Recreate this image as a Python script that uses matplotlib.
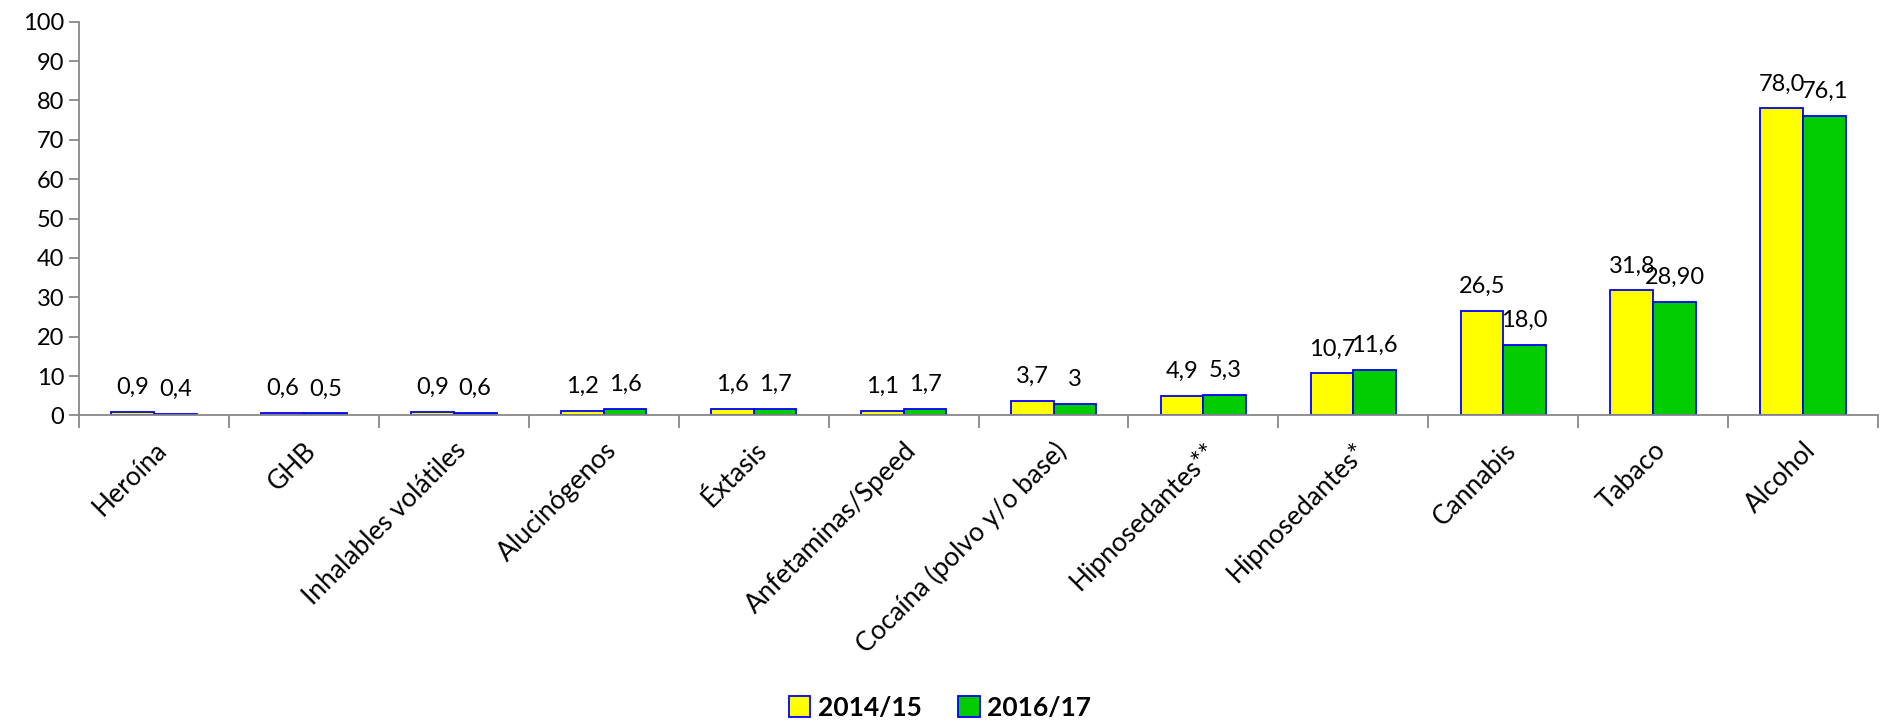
import numpy as np
import matplotlib.pyplot as plt

plt.rcParams['font.family'] = ['Lato', 'DejaVu Sans']

# categories and values
categorias = ['Heroína', 'GHB', 'Inhalables volátiles', 'Alucinógenos', 'Éxtasis',
              'Anfetaminas/Speed', 'Cocaína (polvo y/o base)', 'Hipnosedantes**',
              'Hipnosedantes*', 'Cannabis', 'Tabaco', 'Alcohol']
v_2014 = [0.9, 0.6, 0.9, 1.2, 1.6, 1.1, 3.7, 4.9, 10.7, 26.5, 31.8, 78.0]
v_2016 = [0.4, 0.5, 0.6, 1.6, 1.7, 1.7, 3.0, 5.3, 11.6, 18.0, 28.9, 76.1]
lab_2014 = ['0,9', '0,6', '0,9', '1,2', '1,6', '1,1', '3,7', '4,9', '10,7', '26,5', '31,8', '78,0']
lab_2016 = ['0,4', '0,5', '0,6', '1,6', '1,7', '1,7', '3', '5,3', '11,6', '18,0', '28,90', '76,1']

fig = plt.figure(figsize=(18.8, 7.25), dpi=100)
ax = fig.add_axes([0.042, 0.427, 0.957, 0.543])

x = np.arange(len(categorias))
w = 0.285
b1 = ax.bar(x - w / 2, v_2014, w, color='#FFFF00', edgecolor='#0000FF', linewidth=1.3, label='2014/15')
b2 = ax.bar(x + w / 2, v_2016, w, color='#00CC00', edgecolor='#0000FF', linewidth=1.3, label='2016/17')
ax.bar_label(b1, labels=lab_2014, padding=10, fontsize=17)
ax.bar_label(b2, labels=lab_2016, padding=10, fontsize=17)

ax.set_xlim(-0.5, len(categorias) - 0.5)
ax.set_ylim(0, 100)
ax.set_yticks(range(0, 101, 10))
ax.tick_params(axis='y', labelsize=17, length=7, color='#888888', width=1.3)

# x ticks at category boundaries, labels at centres
ax.set_xticks(np.arange(-0.5, len(categorias), 1))
ax.set_xticklabels([])
ax.set_xticks(x, minor=True)
ax.set_xticklabels(categorias, minor=True, rotation=45, ha='right', rotation_mode='anchor', fontsize=19)
ax.tick_params(axis='x', which='major', length=9, color='#888888', width=1.3)
ax.tick_params(axis='x', which='minor', length=0, pad=16)

for s in ['top', 'right']:
    ax.spines[s].set_visible(False)
for s in ['left', 'bottom']:
    ax.spines[s].set_color('#888888')
    ax.spines[s].set_linewidth(1.3)

leg = fig.legend(loc='center', bbox_to_anchor=(0.5, 0.024), ncol=2, frameon=False,
                 prop={'weight': 'bold', 'size': 19}, handlelength=0.8, handleheight=0.8,
                 handletextpad=0.3, columnspacing=1.4)

fig.savefig('out.png', dpi=100)
